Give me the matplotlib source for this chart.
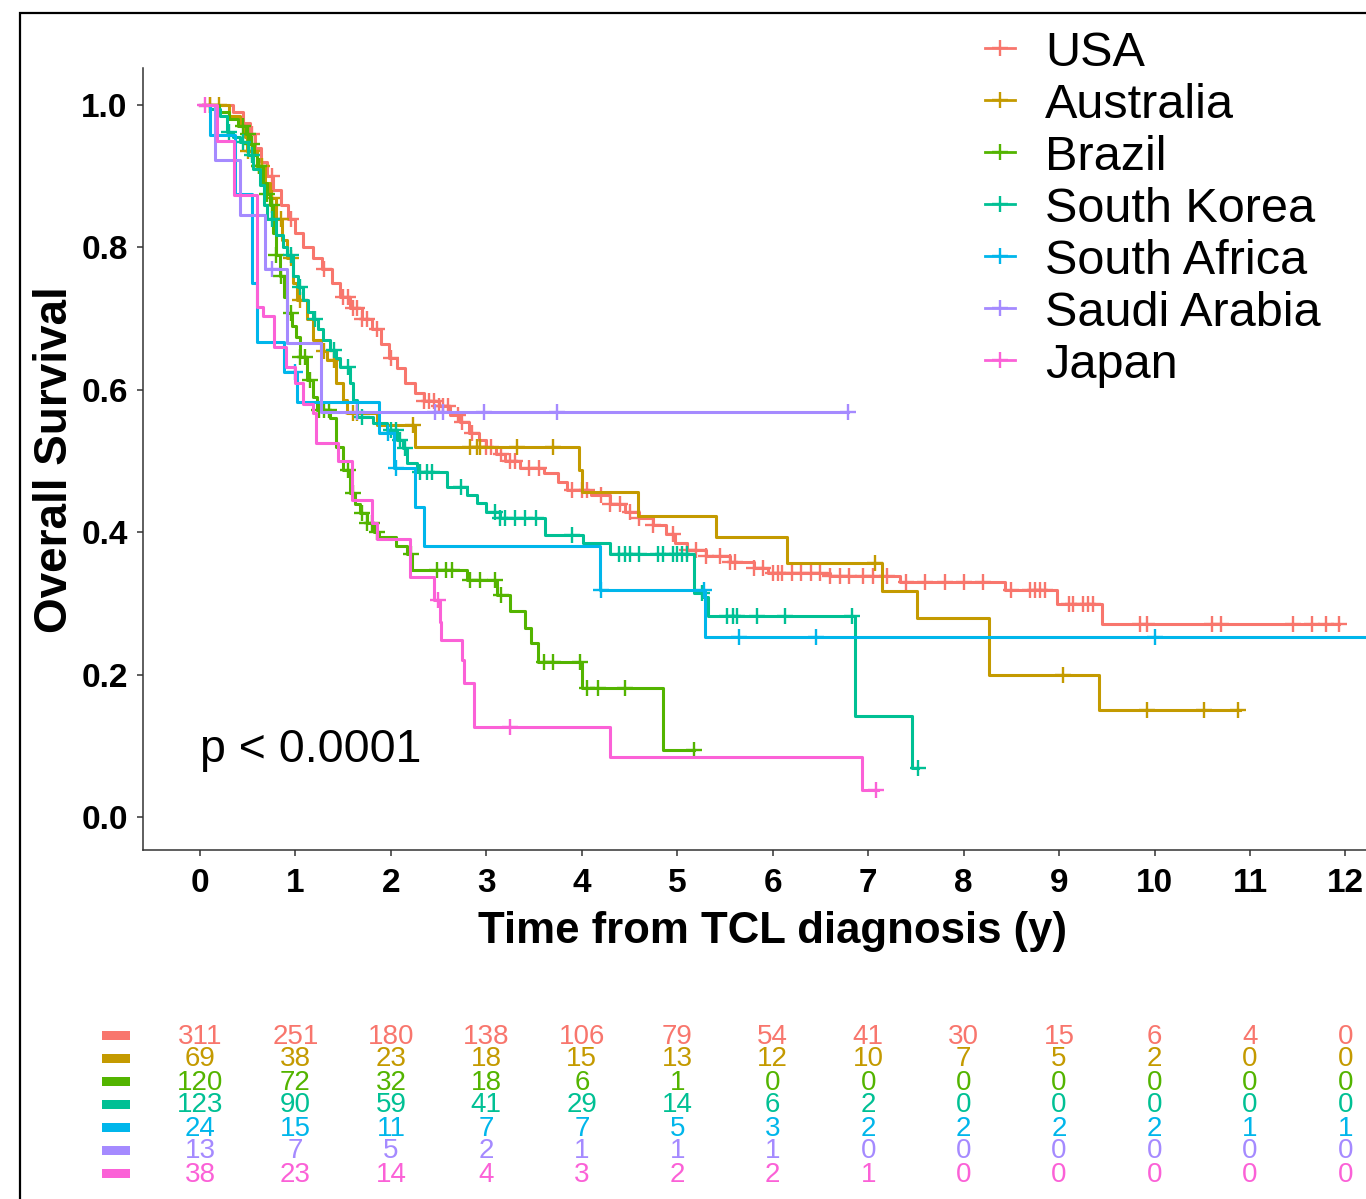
import numpy as np
import matplotlib
matplotlib.use("Agg")
import matplotlib.pyplot as plt
from matplotlib import font_manager
from matplotlib.lines import Line2D
from matplotlib.patches import Rectangle
import matplotlib.transforms as mtransforms

# groups and colours (ggplot hue palette)
countries = ["USA", "Australia", "Brazil", "South Korea", "South Africa", "Saudi Arabia", "Japan"]
colors = ["#F8766D", "#C49A00", "#53B400", "#00C094", "#00B6EB", "#A58AFF", "#FB61D7"]

# Kaplan-Meier step curves (time in years, survival after the step)
usa_t = [0, 0.35, 0.45, 0.52, 0.58, 0.64, 0.7, 0.77, 0.85, 0.92, 1.0, 1.08, 1.18, 1.28, 1.38, 1.47, 1.57,
         1.7, 1.8, 1.9, 1.98, 2.06, 2.15, 2.25, 2.35, 2.5, 2.62, 2.72, 2.82, 2.92, 3.0, 3.1, 3.2, 3.35,
         3.6, 3.75, 3.85, 4.1, 4.3, 4.45, 4.6, 4.75, 4.88, 4.98, 5.1, 5.3, 5.55, 5.8, 5.95, 6.6, 7.33,
         8.43, 8.98, 9.45]
usa_s = [1.0, 0.99, 0.975, 0.96, 0.94, 0.92, 0.90, 0.88, 0.86, 0.84, 0.82, 0.80, 0.785, 0.77, 0.75, 0.73,
         0.715, 0.70, 0.685, 0.665, 0.645, 0.63, 0.61, 0.595, 0.585, 0.577, 0.565, 0.555, 0.54, 0.53,
         0.52, 0.51, 0.50, 0.49, 0.483, 0.47, 0.46, 0.452, 0.44, 0.428, 0.42, 0.41, 0.398, 0.385, 0.375,
         0.366, 0.358, 0.35, 0.343, 0.338, 0.330, 0.319, 0.299, 0.271]
usa_end = 11.93
usa_cens = [0.1, 0.55, 0.75, 0.95, 1.3, 1.5, 1.55, 1.6, 1.65, 1.7, 1.75, 1.85, 2.0, 2.35, 2.4, 2.45, 2.5,
            2.55, 2.6, 2.7, 2.75, 2.85, 3.0, 3.05, 3.15, 3.25, 3.3, 3.45, 3.55, 3.9, 4.0, 4.05, 4.2, 4.3,
            4.4, 4.5, 4.6, 4.75, 4.95, 5.1, 5.2, 5.3, 5.45, 5.55, 5.6, 5.8, 5.9, 6.0, 6.05, 6.1, 6.2,
            6.3, 6.4, 6.5, 6.6, 6.7, 6.8, 6.95, 7.05, 7.2, 7.4, 7.6, 7.8, 8.0, 8.2, 8.5, 8.7, 8.75, 8.8,
            8.85, 9.1, 9.15, 9.25, 9.3, 9.35, 9.85, 9.92, 10.6, 10.7, 11.45, 11.65, 11.8, 11.93]

aus_t = [0, 0.3, 0.42, 0.47, 0.49, 0.6, 0.68, 0.73, 0.8, 0.86, 0.91, 0.97, 1.02, 1.12, 1.18, 1.27, 1.33,
         1.43, 1.5, 1.54, 1.85, 2.25, 3.97, 4.0, 4.59, 5.41, 6.15, 7.14, 7.51, 8.27, 9.42]
aus_s = [1.0, 0.985, 0.97, 0.955, 0.935, 0.915, 0.89, 0.87, 0.84, 0.81, 0.785, 0.75, 0.726, 0.70, 0.67,
         0.655, 0.642, 0.61, 0.586, 0.567, 0.55, 0.52, 0.487, 0.456, 0.423, 0.393, 0.357, 0.318, 0.28,
         0.20, 0.15]
aus_end = 10.89
aus_cens = [0.1, 0.2, 0.5, 0.55, 0.62, 0.65, 0.75, 0.85, 0.95, 1.05, 1.3, 1.4, 1.6, 1.65, 2.23, 2.83,
            2.9, 2.93, 3.32, 3.7, 7.07, 9.04, 9.92, 10.52, 10.87]

bra_t = [0, 0.2, 0.3, 0.4, 0.48, 0.52, 0.57, 0.6, 0.66, 0.7, 0.73, 0.77, 0.8, 0.84, 0.88, 0.91, 0.96,
         1.01, 1.05, 1.12, 1.18, 1.23, 1.36, 1.43, 1.5, 1.57, 1.62, 1.68, 1.75, 1.82, 1.88, 2.05, 2.17,
         2.22, 2.8, 3.11, 3.25, 3.4, 3.47, 3.54, 4.0, 4.85]
bra_s = [1.0, 0.99, 0.98, 0.97, 0.96, 0.945, 0.93, 0.915, 0.89, 0.875, 0.86, 0.82, 0.79, 0.76, 0.73,
         0.708, 0.69, 0.674, 0.646, 0.614, 0.59, 0.572, 0.56, 0.52, 0.487, 0.455, 0.44, 0.427, 0.413,
         0.40, 0.393, 0.38, 0.37, 0.347, 0.333, 0.312, 0.29, 0.265, 0.244, 0.218, 0.181, 0.094]
bra_end = 5.18
bra_cens = [0.45, 0.5, 0.55, 0.62, 0.7, 0.75, 0.8, 0.85, 0.95, 1.05, 1.1, 1.15, 1.25, 1.3, 1.35, 1.55,
            1.6, 1.7, 1.75, 1.8, 1.85, 2.21, 2.48, 2.58, 2.64, 2.83, 2.93, 3.09, 3.15, 3.6, 3.7, 3.98,
            4.05, 4.17, 4.45, 5.18]

kor_t = [0, 0.1, 0.21, 0.28, 0.35, 0.42, 0.5, 0.56, 0.63, 0.67, 0.7, 0.8, 0.87, 0.91, 0.97, 1.03, 1.08,
         1.13, 1.18, 1.24, 1.29, 1.36, 1.42, 1.47, 1.57, 1.6, 1.64, 1.81, 1.96, 2.06, 2.13, 2.17, 2.27,
         2.59, 2.8, 2.9, 3.0, 3.14, 3.61, 4.01, 4.29, 5.18, 5.27, 5.32, 6.86, 7.46]
kor_s = [1.0, 0.995, 0.985, 0.962, 0.955, 0.948, 0.93, 0.91, 0.888, 0.86, 0.84, 0.817, 0.80, 0.79, 0.76,
         0.745, 0.726, 0.71, 0.70, 0.685, 0.67, 0.656, 0.645, 0.632, 0.61, 0.586, 0.562, 0.553, 0.543,
         0.53, 0.518, 0.497, 0.485, 0.463, 0.452, 0.441, 0.428, 0.42, 0.396, 0.385, 0.37, 0.315, 0.309,
         0.283, 0.142, 0.069]
kor_end = 7.52
kor_cens = [0.3, 0.45, 0.55, 0.75, 0.95, 1.05, 1.2, 1.4, 1.55, 1.7, 2.0, 2.05, 2.1, 2.15, 2.3, 2.38,
            2.43, 2.73, 3.09, 3.14, 3.2, 3.3, 3.4, 3.52, 3.9, 4.39, 4.45, 4.5, 4.6, 4.8, 4.85, 4.95, 5.0,
            5.05, 5.1, 5.26, 5.52, 5.58, 5.63, 5.83, 6.13, 6.83, 7.52]

saf_t = [0, 0.1, 0.37, 0.55, 0.6, 0.88, 1.02, 1.88, 2.03, 2.25, 2.35, 4.19, 5.29]
saf_s = [1.0, 0.958, 0.875, 0.75, 0.667, 0.625, 0.583, 0.539, 0.49, 0.436, 0.38, 0.319, 0.253]
saf_end = 13.0
saf_cens = [1.0, 1.97, 2.05, 4.2, 5.28, 5.65, 6.45, 10.0]

sau_t = [0, 0.16, 0.42, 0.68, 0.91, 1.27]
sau_s = [1.0, 0.923, 0.846, 0.769, 0.666, 0.569]
sau_end = 6.79
sau_cens = [0.75, 1.64, 2.46, 2.55, 2.98, 3.74, 6.79]

jpn_t = [0, 0.18, 0.36, 0.6, 0.66, 0.78, 0.9, 1.0, 1.08, 1.18, 1.22, 1.45, 1.59, 1.8, 1.85, 2.2, 2.45,
         2.51, 2.52, 2.75, 2.77, 2.87, 4.29, 6.93]
jpn_s = [1.0, 0.95, 0.874, 0.716, 0.703, 0.66, 0.632, 0.61, 0.58, 0.567, 0.525, 0.50, 0.445, 0.413,
         0.39, 0.337, 0.305, 0.274, 0.249, 0.22, 0.188, 0.126, 0.084, 0.038]
jpn_end = 7.1
jpn_cens = [0.05, 2.49, 3.25, 7.08]

# numbers at risk at 0..12 years
risk_times = list(range(13))
risk_usa = [311, 251, 180, 138, 106, 79, 54, 41, 30, 15, 6, 4, 0]
risk_aus = [69, 38, 23, 18, 15, 13, 12, 10, 7, 5, 2, 0, 0]
risk_bra = [120, 72, 32, 18, 6, 1, 0, 0, 0, 0, 0, 0, 0]
risk_kor = [123, 90, 59, 41, 29, 14, 6, 2, 0, 0, 0, 0, 0]
risk_saf = [24, 15, 11, 7, 7, 5, 3, 2, 2, 2, 2, 1, 1]
risk_sau = [13, 7, 5, 2, 1, 1, 1, 0, 0, 0, 0, 0, 0]
risk_jpn = [38, 23, 14, 4, 3, 2, 2, 1, 0, 0, 0, 0, 0]

curves = [(usa_t, usa_s, usa_end, usa_cens), (aus_t, aus_s, aus_end, aus_cens),
          (bra_t, bra_s, bra_end, bra_cens), (kor_t, kor_s, kor_end, kor_cens),
          (saf_t, saf_s, saf_end, saf_cens), (sau_t, sau_s, sau_end, sau_cens),
          (jpn_t, jpn_s, jpn_end, jpn_cens)]
risks = [risk_usa, risk_aus, risk_bra, risk_kor, risk_saf, risk_sau, risk_jpn]

plt.rcParams['font.family'] = ['Liberation Sans', 'DejaVu Sans']

W, H = 1366, 1199
fig = plt.figure(figsize=(W / 100, H / 100), dpi=100)

# axes placed in pixel terms of the reference
ax_l, ax_r, ax_b, ax_t = 143, 1366, 850, 68
ax = fig.add_axes([ax_l / W, 1 - ax_b / H, (ax_r - ax_l) / W, (ax_b - ax_t) / H])
ax.set_xlim(-0.597, 12.215)
ax.set_ylim(-0.0463, 1.052)

for (t, s, end, cens), col in zip(curves, colors):
    tt = list(t) + [end]
    ss = list(s) + [s[-1]]
    ax.step(tt, ss, where='post', color=col, lw=2.2, clip_on=False)
    idx = np.searchsorted(t, cens, side='right') - 1
    cy = np.array(s)[idx]
    ax.plot(cens, cy, ls='none', marker='+', ms=11, mew=1.7, color=col, clip_on=False)

ax.spines['top'].set_visible(False)
ax.spines['right'].set_visible(False)
ax.spines['left'].set_color('#333333')
ax.spines['bottom'].set_color('#333333')
ax.spines['left'].set_linewidth(1.1)
ax.spines['bottom'].set_linewidth(1.1)

ax.set_xticks(range(13))
ax.set_yticks([0, 0.2, 0.4, 0.6, 0.8, 1.0])
ax.set_yticklabels(["0.0", "0.2", "0.4", "0.6", "0.8", "1.0"])
ax.tick_params(axis='both', length=4, width=1.1, color='#333333', labelsize=24, pad=7)
ax.tick_params(axis='x', pad=9)
for lab in ax.get_xticklabels() + ax.get_yticklabels():
    lab.set_fontweight('bold')
    lab.set_color('black')

fig.text(773 / W, 1 - 931 / H, "Time from TCL diagnosis (y)", fontsize=31.5, fontweight='bold',
         ha='center', va='center')
fig.text(55 / W, 1 - 460 / H, "Overall Survival", fontsize=33, fontweight='bold',
         rotation=90, ha='center', va='center')

ax.text(0, 0.094, "p < 0.0001", fontsize=33.5, ha='left', va='center')

# legend drawn by hand to match spacing
for i, (name, col) in enumerate(zip(countries, colors)):
    yc = 1 - (48 + 52 * i) / H
    fig.add_artist(Line2D([985 / W, 1015 / W], [yc, yc], color=col, lw=2.0))
    fig.add_artist(Line2D([1000 / W], [yc], marker='+', ms=12, mew=1.7, color=col))
    fig.text(1045 / W, yc, name, fontsize=35, ha='left', va='center_baseline')

# risk table
names = set(f.name for f in font_manager.fontManager.ttflist)
if 'Liberation Sans Narrow' in names:
    risk_font = dict(family='Liberation Sans Narrow', fontsize=22)
else:
    risk_font = dict(family='Liberation Sans', fontsize=20)
tr = mtransforms.blended_transform_factory(ax.transData, fig.transFigure)
for i, (row, col) in enumerate(zip(risks, colors)):
    yc = 1 - (1035 + 23 * i) / H
    fig.add_artist(Rectangle((102 / W, yc - 4.5 / H), 28 / W, 9 / H, color=col, lw=0))
    for tx, n in zip(risk_times, row):
        ax.text(tx, yc - 1.5 / H, str(n), transform=tr, color=col, ha='center', va='center',
                clip_on=False, **risk_font)

# outer frame
fig.add_artist(Rectangle((20 / W, -0.05), 1.2, 1 - 13 / H + 0.05, transform=fig.transFigure,
                         fill=False, ec='black', lw=1.6))

fig.savefig("out.png", dpi=100)
